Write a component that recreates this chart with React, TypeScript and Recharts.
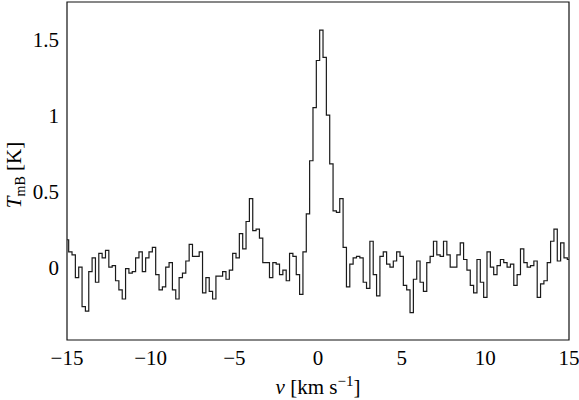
import React from 'react';
import { LineChart, Line, XAxis, YAxis, ReferenceArea } from 'recharts';

// Channel grid (km/s)
const V_START = -15;
const V_STEP = 0.2;

// Main-beam temperature per channel (K)
const tmb = [
  0.18, 0.1, 0.08, -0.07, 0.0, -0.26, -0.29, -0.03, 0.06, -0.1,
  0.09, 0.06, 0.11, 0.0, 0.01, -0.09, -0.15, -0.21, -0.01, -0.04,
  -0.03, 0.06, 0.1, -0.03, 0.06, 0.1, 0.13, -0.05, -0.15, -0.13,
  0.0, 0.03, -0.15, -0.21, -0.07, -0.04, 0.04, 0.15, 0.07, 0.07,
  0.1, -0.17, -0.07, -0.16, -0.21, -0.06, -0.06, -0.03, -0.08, -0.02,
  0.09, 0.06, 0.22, 0.12, 0.3, 0.45, 0.24, 0.25, 0.19, 0.03,
  0.03, -0.07, 0.03, 0.02, -0.05, -0.02, -0.09, 0.09, 0.07, -0.05,
  -0.18, 0.1, 0.35, 0.7, 1.05, 1.36, 1.56, 1.38, 1.0, 0.68,
  0.37, 0.36, 0.45, 0.13, -0.13, 0.02, 0.06, 0.07, 0.06, -0.1,
  -0.14, 0.17, -0.05, -0.19, 0.07, 0.1, 0.02, 0.0, 0.04, 0.1,
  0.07, -0.12, -0.15, -0.3, -0.08, 0.04, -0.1, -0.16, 0.03, 0.07,
  0.17, 0.08, 0.07, 0.17, 0.08, 0.0, 0.0, 0.08, 0.16, 0.05,
  -0.02, -0.12, -0.17, 0.05, -0.1, -0.2, 0.1, 0.0, -0.05, 0.01,
  0.05, 0.03, 0.0, 0.02, -0.12, -0.05, 0.12, 0.03, 0.0, 0.01,
  0.04, -0.2, -0.11, -0.09, 0.03, 0.17, 0.25, 0.04, 0.16, 0.06, 0.05,
];

const velocity = tmb.map((_, i) => +(V_START + i * V_STEP).toFixed(2));

const xTicks = [-15, -10, -5, 0, 5, 10, 15];
const yTicks = [0, 0.5, 1, 1.5];
const xDomain: [number, number] = [-15, 15];
const yDomain: [number, number] = [-0.48, 1.745];

const data = velocity.map((v, i) => ({ v, t: tmb[i] }));

const FONT = 'Liberation Serif';
const fmtX = (v: number) => (v < 0 ? `\u2212${Math.abs(v)}` : `${v}`);
const fmtY = (v: number) => `${v}`;

const CSS = `
.spec-chart, .spec-chart svg, .spec-chart text, .spec-chart tspan {
  font-family: "Liberation Serif", "Times New Roman", Tinos, serif !important;
}
`;

export default function App() {
  return (
    <div className="spec-chart" style={{ position: 'absolute', left: 0, top: 0, fontFamily: FONT }}>
      <style>{CSS}</style>
      <LineChart
        width={579}
        height={400}
        data={data}
        margin={{ top: 2, right: 10, bottom: 0, left: 0 }}
      >
        <XAxis
          dataKey="v"
          type="number"
          domain={xDomain}
          ticks={xTicks}
          interval={0}
          tickFormatter={fmtX}
          axisLine={false}
          tickLine={false}
          tickMargin={4}
          height={60}
          allowDataOverflow
          tick={{ fontFamily: FONT, fontSize: 21, fill: '#000' }}
        />
        <YAxis
          type="number"
          domain={yDomain}
          ticks={yTicks}
          interval={0}
          tickFormatter={fmtY}
          axisLine={false}
          tickLine={false}
          width={67}
          allowDataOverflow
          tick={{ fontFamily: FONT, fontSize: 21, fill: '#000' }}
        />
        <ReferenceArea
          x1={xDomain[0]}
          x2={xDomain[1]}
          y1={yDomain[0]}
          y2={yDomain[1]}
          fill="none"
          stroke="#111"
          strokeWidth={1.2}
          fillOpacity={0}
        />
        <Line
          type="step"
          dataKey="t"
          stroke="#1a1a1a"
          strokeWidth={1.2}
          dot={false}
          activeDot={false}
          isAnimationActive={false}
        />
        <text x={318} y={394} textAnchor="middle" fontFamily={FONT} fontSize={21} fill="#000">
          <tspan fontStyle="italic">v</tspan>
          <tspan> [km s</tspan>
          <tspan dy={-8} fontSize={15}>{'\u22121'}</tspan>
          <tspan dy={8}>]</tspan>
        </text>
        <text
          x={21}
          y={175}
          transform="rotate(-90, 21, 175)"
          textAnchor="middle"
          fontFamily={FONT}
          fontSize={21}
          fill="#000"
        >
          <tspan fontStyle="italic">T</tspan>
          <tspan dy={4} fontSize={14}>mB</tspan>
          <tspan dy={-4}> [K]</tspan>
        </text>
      </LineChart>
    </div>
  );
}
